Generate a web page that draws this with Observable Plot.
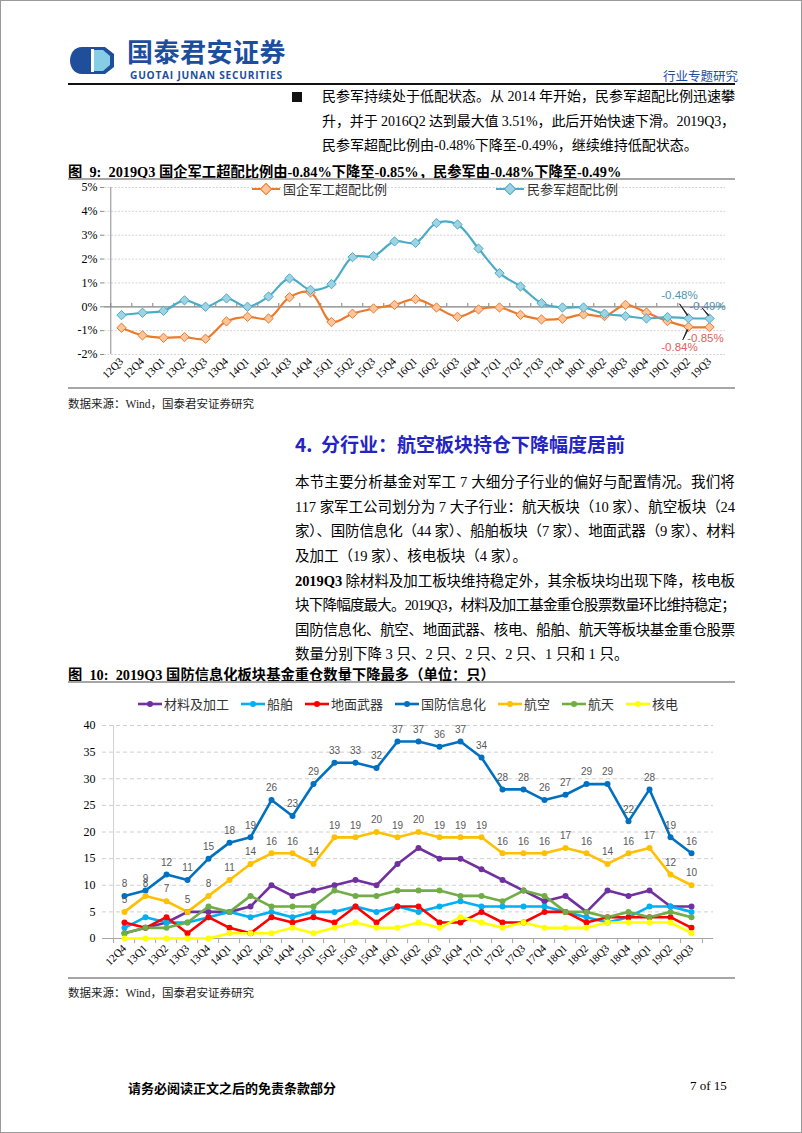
<!DOCTYPE html>
<html><head><meta charset="utf-8">
<script src="https://cdn.jsdelivr.net/npm/d3@7"></script>
<script src="https://cdn.jsdelivr.net/npm/@observablehq/plot@0.6"></script>
<style>
html,body{margin:0;padding:0;background:#fff;}
body{width:802px;height:1133px;position:relative;overflow:hidden;font-family:"Liberation Serif","Noto Sans CJK SC",serif;color:#000;}
.abs{position:absolute;white-space:nowrap;}
.frame{position:absolute;left:0;top:0;width:800px;height:1131px;border:1px solid #9a9a9a;}
.jl{display:block;white-space:nowrap;}
.jl > span{display:inline-block;white-space:nowrap;}
.ln{display:block;white-space:nowrap;}
.rule{position:absolute;left:68px;width:667px;height:2px;background:#a6a6a6;}
.ftitle{font-weight:bold;font-size:14.3px;}
.src{font-size:11.5px;color:#222;}
.leg{position:absolute;display:flex;align-items:center;font-family:"Noto Sans CJK SC",sans-serif;font-size:12.5px;color:#333;white-space:nowrap;}
.leg span.it{display:flex;align-items:center;}
</style></head>
<body>
<div class="frame"></div>

<!-- header -->
<svg class="abs" style="left:70px;top:47px" width="46" height="27" viewBox="0 0 46 27">
  <path d="M12,0 L35,0 L44,7 L44,20 L35,27 L12,27 C4,27 0,20 0,13.5 C0,7 4,0 12,0 Z" fill="#1f4e9a"/>
  <path d="M24,3 L33,3 L40,9 L40,18 L33,24 L24,24 Z" fill="#86cde6"/>
  <rect x="21" y="2" width="3" height="23" fill="#fff"/>
  <path d="M12,4 C8,4 5,8 5,13.5 C5,19 8,23 12,23 L19,23 L19,4 Z" fill="#1f4e9a"/>
</svg>
<div class="abs" style="left:127px;top:33px;font-family:'Noto Sans CJK SC',sans-serif;font-weight:bold;font-size:26px;line-height:36px;color:#1d4e9e;letter-spacing:0.5px;">国泰君安证券</div>
<div class="abs" style="left:130px;top:69px;font-family:'Open Sans',sans-serif;font-weight:bold;font-size:10.2px;line-height:12px;color:#1d4e9e;letter-spacing:0.75px;">GUOTAI JUNAN SECURITIES</div>
<div class="abs" style="left:663px;top:66px;font-family:'Noto Sans CJK SC',sans-serif;font-size:12.5px;color:#1d4e9e;">行业专题研究</div>
<div class="abs" style="left:68px;top:83px;width:667px;height:1.5px;background:#111;"></div>

<div class="abs" style="left:292px;top:92px;width:10px;height:10px;background:#111;"></div>
<div class="abs" style="left:322px;top:85px;width:413px;font-size:14px;line-height:24.5px;">
  <span class="jl" data-w="413"><span>民参军持续处于低配状态。从 2014 年开始，民参军超配比例迅速攀</span></span>
  <span class="jl" data-w="413"><span>升，并于 2016Q2 达到最大值 3.51%，此后开始快速下滑。2019Q3，</span></span>
  <span class="ln">民参军超配比例由-0.48%下降至-0.49%，继续维持低配状态。</span>
</div>

<div class="abs ftitle" style="left:68px;top:160px;">图&nbsp; 9:&nbsp; 2019Q3 国企军工超配比例由-0.84%下降至-0.85%，民参军由-0.48%下降至-0.49%</div>
<div class="rule" style="top:178px;"></div>
<div id="c9" class="abs" style="left:0;top:180px;"></div>
<div class="leg" style="left:252px;top:179px;font-size:13px;">
  <svg width="28" height="12"><line x1="0" y1="6" x2="28" y2="6" stroke="#ec7a2c" stroke-width="2"/><rect x="10" y="2" width="8" height="8" transform="rotate(45 14 6)" fill="#fbc49a" stroke="#ec7a2c"/></svg>
  <span style="margin-left:3px;">国企军工超配比例</span>
</div>
<div class="leg" style="left:496px;top:179px;font-size:13px;">
  <svg width="28" height="12"><line x1="0" y1="6" x2="28" y2="6" stroke="#4bacc6" stroke-width="2"/><rect x="10" y="2" width="8" height="8" transform="rotate(45 14 6)" fill="#9fd3e3" stroke="#4bacc6"/></svg>
  <span style="margin-left:3px;">民参军超配比例</span>
</div>
<div class="rule" style="top:387px;"></div>
<div class="abs src" style="left:68px;top:395px;">数据来源：Wind，国泰君安证券研究</div>

<div class="abs" style="left:295px;top:430px;font-family:'Noto Sans CJK SC',sans-serif;font-weight:bold;font-size:19px;color:#2424c4;">4.&nbsp; 分行业：航空板块持仓下降幅度居前</div>

<div class="abs" style="left:295px;top:470px;width:440px;font-size:14.5px;line-height:24.5px;">
  <span class="jl" data-w="440"><span>本节主要分析基金对军工 7 大细分子行业的偏好与配置情况。我们将</span></span>
  <span class="jl" data-w="440"><span>117 家军工公司划分为 7 大子行业：航天板块（10 家）、航空板块（24</span></span>
  <span class="jl" data-w="440"><span>家）、国防信息化（44 家）、船舶板块（7 家）、地面武器（9 家）、材料</span></span>
  <span class="ln">及加工（19 家）、核电板块（4 家）。</span>
</div>
<div class="abs" style="left:295px;top:569px;width:440px;font-size:14.5px;line-height:24.3px;">
  <span class="jl" data-w="440"><span><b>2019Q3</b> 除材料及加工板块维持稳定外，其余板块均出现下降，核电板</span></span>
  <span class="jl" data-w="440"><span>块下降幅度最大。2019Q3，材料及加工基金重仓股票数量环比维持稳定；</span></span>
  <span class="jl" data-w="440"><span>国防信息化、航空、地面武器、核电、船舶、航天等板块基金重仓股票</span></span>
  <span class="ln">数量分别下降 3 只、2 只、2 只、2 只、1 只和 1 只。</span>
</div>

<div class="abs ftitle" style="left:68px;top:663px;">图&nbsp; 10:&nbsp; 2019Q3 国防信息化板块基金重仓数量下降最多（单位：只）</div>
<div class="rule" style="top:681px;"></div>
<div id="leg10" class="leg" style="left:138px;top:694px;font-size:13px;"></div>
<div id="c10" class="abs" style="left:0;top:712px;"></div>
<div class="rule" style="top:977px;"></div>
<div class="abs src" style="left:68px;top:984px;">数据来源：Wind，国泰君安证券研究</div>

<div class="abs" style="left:128px;top:1078px;font-family:'Noto Sans CJK SC',sans-serif;font-weight:bold;font-size:13px;">请务必阅读正文之后的免责条款部分</div>
<div class="abs" style="left:690px;top:1078px;font-size:13px;">7 of 15</div>

<script>
// fit justified lines to their width
document.querySelectorAll(".jl").forEach(el => {
  const inner = el.firstElementChild;
  const target = +el.dataset.w;
  const w = inner.getBoundingClientRect().width;
  const n = inner.textContent.length;
  inner.style.letterSpacing = ((target - w) / n) + "px";
});

// ---------- Figure 9 data ----------
const q9 = ["12Q3","12Q4","13Q1","13Q2","13Q3","13Q4","14Q1","14Q2","14Q3","14Q4","15Q1","15Q2","15Q3","15Q4","16Q1","16Q2","16Q3","16Q4","17Q1","17Q2","17Q3","17Q4","18Q1","18Q2","18Q3","18Q4","19Q1","19Q2","19Q3"];
const soe9 = [-0.88,-1.20,-1.30,-1.27,-1.34,-0.61,-0.42,-0.49,0.40,0.60,-0.64,-0.29,-0.07,0.08,0.32,-0.03,-0.42,-0.11,-0.03,-0.34,-0.53,-0.50,-0.32,-0.39,0.08,-0.24,-0.60,-0.84,-0.85];
const civ9 = [-0.35,-0.25,-0.17,0.27,0.00,0.35,0.00,0.43,1.19,0.71,0.95,2.08,2.12,2.74,2.68,3.51,3.45,2.44,1.41,0.85,0.15,-0.03,-0.03,-0.29,-0.39,-0.49,-0.43,-0.48,-0.49];
const series9 = ["国企军工超配比例","民参军超配比例"];
const yTicks9 = [-2,-1,0,1,2,3,4,5];

// ---------- Figure 10 data ----------
const q10 = ["12Q4","13Q1","13Q2","13Q3","13Q4","14Q1","14Q2","14Q3","14Q4","15Q1","15Q2","15Q3","15Q4","16Q1","16Q2","16Q3","16Q4","17Q1","17Q2","17Q3","17Q4","18Q1","18Q2","18Q3","18Q4","19Q1","19Q2","19Q3"];
const cailiao  = [1,2,3,5,5,5,6,10,8,9,10,11,10,14,17,15,15,13,11,9,7,8,5,9,8,9,6,6];
const chuanbo  = [2,4,3,3,4,5,4,5,4,5,5,6,5,6,5,6,7,6,6,6,6,5,4,3,4,6,6,5];
const dimian   = [3,2,4,1,4,2,1,4,3,4,3,6,3,6,6,3,3,5,3,3,5,5,3,4,4,4,4,2];
const guofang  = [8,9,12,11,15,18,19,26,23,29,33,33,32,37,37,36,37,34,28,28,26,27,29,29,22,28,19,16];
const hangkong = [5,8,7,5,8,11,14,16,16,14,19,19,20,19,20,19,19,19,16,16,16,17,16,14,16,17,12,10];
const hangtian = [1,2,2,3,6,5,8,6,6,6,9,8,8,9,9,9,8,8,7,9,8,5,5,4,5,4,5,4];
const hedian   = [0,0,0,0,0,1,1,1,2,1,2,3,2,2,3,2,4,3,2,3,2,2,2,3,3,3,3,1];
const names10  = ["材料及加工","船舶","地面武器","国防信息化","航空","航天","核电"];
const values10 = [cailiao, chuanbo, dimian, guofang, hangkong, hangtian, hedian];
const colors10 = ["#7030a0","#00b0f0","#ff0000","#0070c0","#ffc000","#70ad47","#ffff00"];
const labeled10 = ["国防信息化","航空"];
const yTicks10 = [0,5,10,15,20,25,30,35,40];

// ---------- Figure 9 ----------
{
  const W = 802, ml = 104, mr = 77;
  const step = (W - ml - mr) / q9.length;
  const data = [];
  q9.forEach((q, i) => {
    data.push({q, v: soe9[i], s: series9[0]});
    data.push({q, v: civ9[i], s: series9[1]});
  });
  const last = q9[q9.length - 1], prev = q9[q9.length - 2];
  const notes = [
    {q: prev, v: civ9[civ9.length-2], t: "-0.48%", c: "#4f94b4", dx: -9, dy: -23},
    {q: last, v: civ9[civ9.length-1], t: "-0.49%", c: "#4f94b4", dx: -2, dy: -12},
    {q: last, v: soe9[soe9.length-1], t: "-0.85%", c: "#e0605a", dx: -4, dy: 11},
    {q: prev, v: soe9[soe9.length-2], t: "-0.84%", c: "#e0605a", dx: -9, dy: 20}
  ];
  const leaders = [
    {q: prev, v: civ9[civ9.length-2], len: 14, rot: -35, dx: -1, dy: -3},
    {q: last, v: civ9[civ9.length-1], len: 10, rot: -40, dx: -1, dy: -3},
    {q: prev, v: soe9[soe9.length-2], len: 11, rot: 205, dx: -1, dy: 3}
  ];
  const color = {domain: series9, range: ["#ec7a2c","#4bacc6"]};
  const fills = {[series9[0]]: "#fbc49a", [series9[1]]: "#9fd3e3"};
  const p = Plot.plot({
    width: W, height: 205, marginLeft: ml, marginRight: mr, marginTop: 7, marginBottom: 31,
    style: {fontFamily: "Liberation Serif, serif", fontSize: "12px", color: "#000", background: "transparent"},
    x: {type: "point", domain: q9, padding: 0.5, label: null},
    y: {domain: [-2, 5], label: null},
    color,
    marks: [
      Plot.ruleY(yTicks9.filter(d => d !== 0), {y: d => d, stroke: "#d4d4d4", strokeDasharray: "2,1.5"}),
      Plot.ruleX([q9[0]], {x: d => d, dx: -step/2, y1: -2, y2: 5, stroke: "#8c8c8c"}),
      Plot.ruleY([0], {stroke: "#808080", strokeWidth: 1.2}),
      Plot.ruleX(q9, {x: d => d, dx: -step/2, y1: 0, y2: 0.14, stroke: "#808080"}),
      Plot.ruleX([last], {x: d => d, dx: step/2, y1: 0, y2: 0.14, stroke: "#808080"}),
      Plot.axisY({ticks: yTicks9, tickFormat: d => d + "%", tickSize: 4, tickPadding: 3, fontSize: 12, stroke: "#8c8c8c"}),
      Plot.axisX({tickRotate: -45, tickSize: 0, tickPadding: 5, fontSize: 11}),
      Plot.line(data, {x: "q", y: "v", stroke: "s", z: "s", curve: "catmull-rom", strokeWidth: 2.2}),
      Plot.dot(data, {x: "q", y: "v", symbol: "diamond2", r: 4.2, stroke: "s", fill: d => fills[d.s], strokeWidth: 1}),
      ...leaders.map(l => Plot.vector([l], {x: "q", y: "v", length: l.len, rotate: l.rot, dx: l.dx, dy: l.dy, anchor: "start", shape: "spike", r: 0.5, stroke: "#222", fill: "#222", strokeWidth: 0.8})),
      ...notes.map(n => Plot.text([n], {x: "q", y: "v", text: "t", fill: n.c, dx: n.dx, dy: n.dy, fontFamily: "Liberation Sans, Arial, sans-serif", fontSize: 11.5}))
    ]
  });
  document.getElementById("c9").appendChild(p);
}

// ---------- Figure 10 ----------
{
  const W = 802, ml = 102, mr = 89;
  const step = (W - ml - mr) / q10.length;
  const data = [];
  names10.forEach((n, k) => values10[k].forEach((v, i) => data.push({q: q10[i], v, s: n})));
  const color = {domain: names10, range: colors10};
  const lab = data.filter(d => labeled10.includes(d.s));
  const last = q10[q10.length - 1];
  const p = Plot.plot({
    width: W, height: 256, marginLeft: ml, marginRight: mr, marginTop: 13, marginBottom: 30,
    style: {fontFamily: "Liberation Serif, serif", fontSize: "12px", color: "#000", background: "transparent"},
    x: {type: "point", domain: q10, padding: 0.5, label: null},
    y: {domain: [0, 40], label: null},
    color,
    marks: [
      Plot.ruleY(yTicks10.filter(d => d > 0), {y: d => d, stroke: "#d0d0d0", strokeDasharray: "4,3"}),
      Plot.ruleX([q10[0]], {x: d => d, dx: -step/2, y1: 0, y2: 40, stroke: "#d0d0d0"}),
      Plot.ruleY([0], {stroke: "#a6a6a6", strokeWidth: 1.2}),
      Plot.ruleX(q10, {x: d => d, dx: -step/2, y1: 0, y2: -0.95, stroke: "#a6a6a6"}),
      Plot.ruleX([last], {x: d => d, dx: step/2, y1: 0, y2: -0.95, stroke: "#a6a6a6"}),
      Plot.axisY({ticks: yTicks10, tickSize: 0, tickPadding: 7, fontSize: 12}),
      Plot.axisX({tickRotate: -45, tickSize: 0, tickPadding: 8, fontSize: 11}),
      Plot.line(data, {x: "q", y: "v", stroke: "s", z: "s", strokeWidth: 2.6}),
      Plot.dot(data, {x: "q", y: "v", fill: "s", r: 3}),
      Plot.text(lab, {x: "q", y: "v", text: d => String(d.v), dy: -12, fill: "#595959", fontFamily: "Liberation Sans, Arial, sans-serif", fontSize: 10})
    ]
  });
  document.getElementById("c10").appendChild(p);

  const leg = document.getElementById("leg10");
  names10.forEach((n, k) => {
    const it = document.createElement("span");
    it.className = "it";
    it.style.marginRight = "12px";
    it.innerHTML = `<svg width="24" height="10"><line x1="0" y1="5" x2="24" y2="5" stroke="${colors10[k]}" stroke-width="2.6"/><circle cx="12" cy="5" r="3" fill="${colors10[k]}"/></svg><span style="margin-left:2px">${n}</span>`;
    leg.appendChild(it);
  });
}
</script>
</body></html>
